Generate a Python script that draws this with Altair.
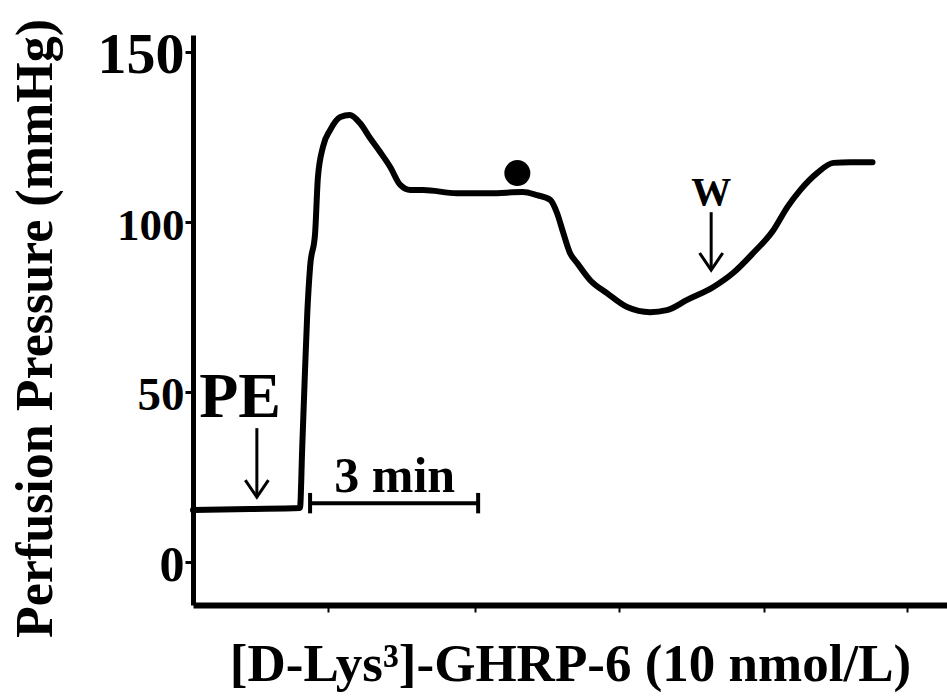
import altair as alt
import pandas as pd

# Perfusion pressure trace: time (min) vs pressure (mmHg)
time_min = [0.0, 1.02, 1.91, 1.95, 2.0, 2.04, 2.09, 2.18, 2.23, 2.32, 2.45, 2.63,
            2.8, 2.98, 3.16, 3.34, 3.52, 3.7, 3.88, 4.11, 4.71, 5.3, 5.89, 6.14,
            6.38, 6.5, 6.61, 6.73, 6.86, 7.09, 7.39, 7.75, 8.16, 8.46, 8.82, 9.29,
            9.64, 10.0, 10.36, 10.61, 10.84, 11.14, 11.43, 11.73, 12.13]
pressure = [15.3, 15.6, 15.9, 33.8, 56.5, 73.2, 86.8, 96.8, 113.2, 122.1, 127.1, 130.9,
            131.5, 129.1, 124.7, 120.6, 116.2, 110.9, 109.4, 109.4, 108.5, 108.5, 108.8, 107.9,
            106.5, 102.6, 96.8, 90.9, 87.9, 82.9, 79.1, 75.0, 73.5, 74.1, 77.1, 80.9,
            85.0, 90.9, 97.6, 104.4, 109.4, 114.4, 117.4, 117.6, 117.6]

x_domain = [0, 13.46]
y_domain = [-12.6, 155]
x_ticks = [2.41, 5.04, 7.61, 10.2, 12.75]
y_ticks = [0, 50, 100, 150]

# Marker dot on the plateau
dot_t = [5.79]
dot_p = [114.4]

# Drug additions: PE and washout (W)
pe_t, pe_p = [0.84], [48.2]
w_t, w_p = [9.25], [108.5]
arrow_t = [1.14, 9.25]
arrow_top = [39.4, 102.9]
arrow_tip = [19.1, 85.9]

# Time scale bar
bar_start = 2.09
bar_minutes = 3
bar_p = 17.35
bar_cap = 3.0
bar_label_t = [3.6]
bar_label_p = [25.0]

FONT = "Liberation Serif"

trace = pd.DataFrame({"t": time_min, "p": pressure})
dots = pd.DataFrame({"t": dot_t, "p": dot_p})
arrows = pd.DataFrame({"t": arrow_t, "p": arrow_tip, "top": arrow_top})
bar = pd.DataFrame({"t": [bar_start], "t2": [bar_start + bar_minutes], "p": [bar_p]})
caps = pd.DataFrame({"t": [bar_start, bar_start + bar_minutes],
                     "p": [bar_p - bar_cap] * 2, "p2": [bar_p + bar_cap] * 2})

xs = alt.Scale(domain=x_domain, nice=False, zero=False)
ys = alt.Scale(domain=y_domain, nice=False, zero=False)

x_axis = alt.Axis(
    values=x_ticks, labels=False, grid=False,
    title="[D-Lys³]-GHRP-6 (10 nmol/L)", titleFont=FONT, titleFontSize=53,
    titleFontWeight="bold", titleColor="black",
    titleY=59, titleBaseline="middle",
    domainColor="black", domainWidth=6,
    tickColor="black", tickWidth=2, tickSize=7,
)
y_axis = alt.Axis(
    values=y_ticks, grid=False, labelFont=FONT, labelFontWeight="bold",
    labelColor="black", labelPadding=1, labelOffset=3,
    labelFontSize={"condition": [
        {"test": "datum.value === 150", "value": 58},
        {"test": "datum.value === 0", "value": 50},
        {"test": "datum.value === 50", "value": 47},
    ], "value": 45},
    title="Perfusion Pressure (mmHg)", titleFont=FONT, titleFontSize=52,
    titleFontWeight="bold", titleColor="black",
    titleX=-158, titleY=293, titleAngle=-90, titleBaseline="middle", titleAlign="center",
    domainColor="black", domainWidth=5,
    tickColor="black", tickWidth=3, tickSize=8,
)


def xenc():
    return alt.X("t:Q", scale=xs, axis=x_axis)


def yenc():
    return alt.Y("p:Q", scale=ys, axis=y_axis)


line = alt.Chart(trace).mark_line(
    color="black", strokeWidth=6, strokeJoin="round", strokeCap="round",
    interpolate="monotone"
).encode(x=xenc(), y=yenc())

dot = alt.Chart(dots).mark_point(
    shape="circle", filled=True, color="black", size=676, opacity=1
).encode(x=xenc(), y=yenc())

pe_text = alt.Chart(pd.DataFrame({"t": pe_t, "p": pe_p, "s": ["PE"]})).mark_text(
    font=FONT, fontWeight="bold", fontSize=64, color="black", baseline="middle"
).encode(x=xenc(), y=yenc(), text="s:N")

w_text = alt.Chart(pd.DataFrame({"t": w_t, "p": w_p, "s": ["W"]})).mark_text(
    font=FONT, fontWeight="bold", fontSize=40, color="black", baseline="middle"
).encode(x=xenc(), y=yenc(), text="s:N")

bar_text = alt.Chart(pd.DataFrame({"t": bar_label_t, "p": bar_label_p, "s": ["3 min"]})).mark_text(
    font=FONT, fontWeight="bold", fontSize=50, color="black", baseline="middle"
).encode(x=xenc(), y=yenc(), text="s:N")

arrow_shaft = alt.Chart(arrows).mark_rule(color="black", strokeWidth=3).encode(
    x=xenc(), y=yenc(), y2="top:Q"
)
arrow_head = alt.Chart(arrows).mark_point(
    shape="M-0.68,-1L0,0L0.68,-1", filled=False, color="black",
    strokeWidth=3, size=1156, opacity=1
).encode(x=xenc(), y=yenc())

bar_rule = alt.Chart(bar).mark_rule(color="black", strokeWidth=4).encode(
    x=xenc(), x2="t2:Q", y=yenc()
)
cap_rules = alt.Chart(caps).mark_rule(color="black", strokeWidth=4).encode(
    x=xenc(), y=yenc(), y2="p2:Q"
)

chart = alt.layer(
    line, dot, pe_text, w_text, bar_text, arrow_shaft, arrow_head, bar_rule, cap_rules
).properties(
    width=754, height=570,
    autosize=alt.AutoSizeParams(type="none"),
    padding={"left": 193, "top": 35, "right": 0, "bottom": 93},
    background="white",
).configure_view(stroke=None)

chart.save("out.html", embed_options={"renderer": "svg", "actions": False})
